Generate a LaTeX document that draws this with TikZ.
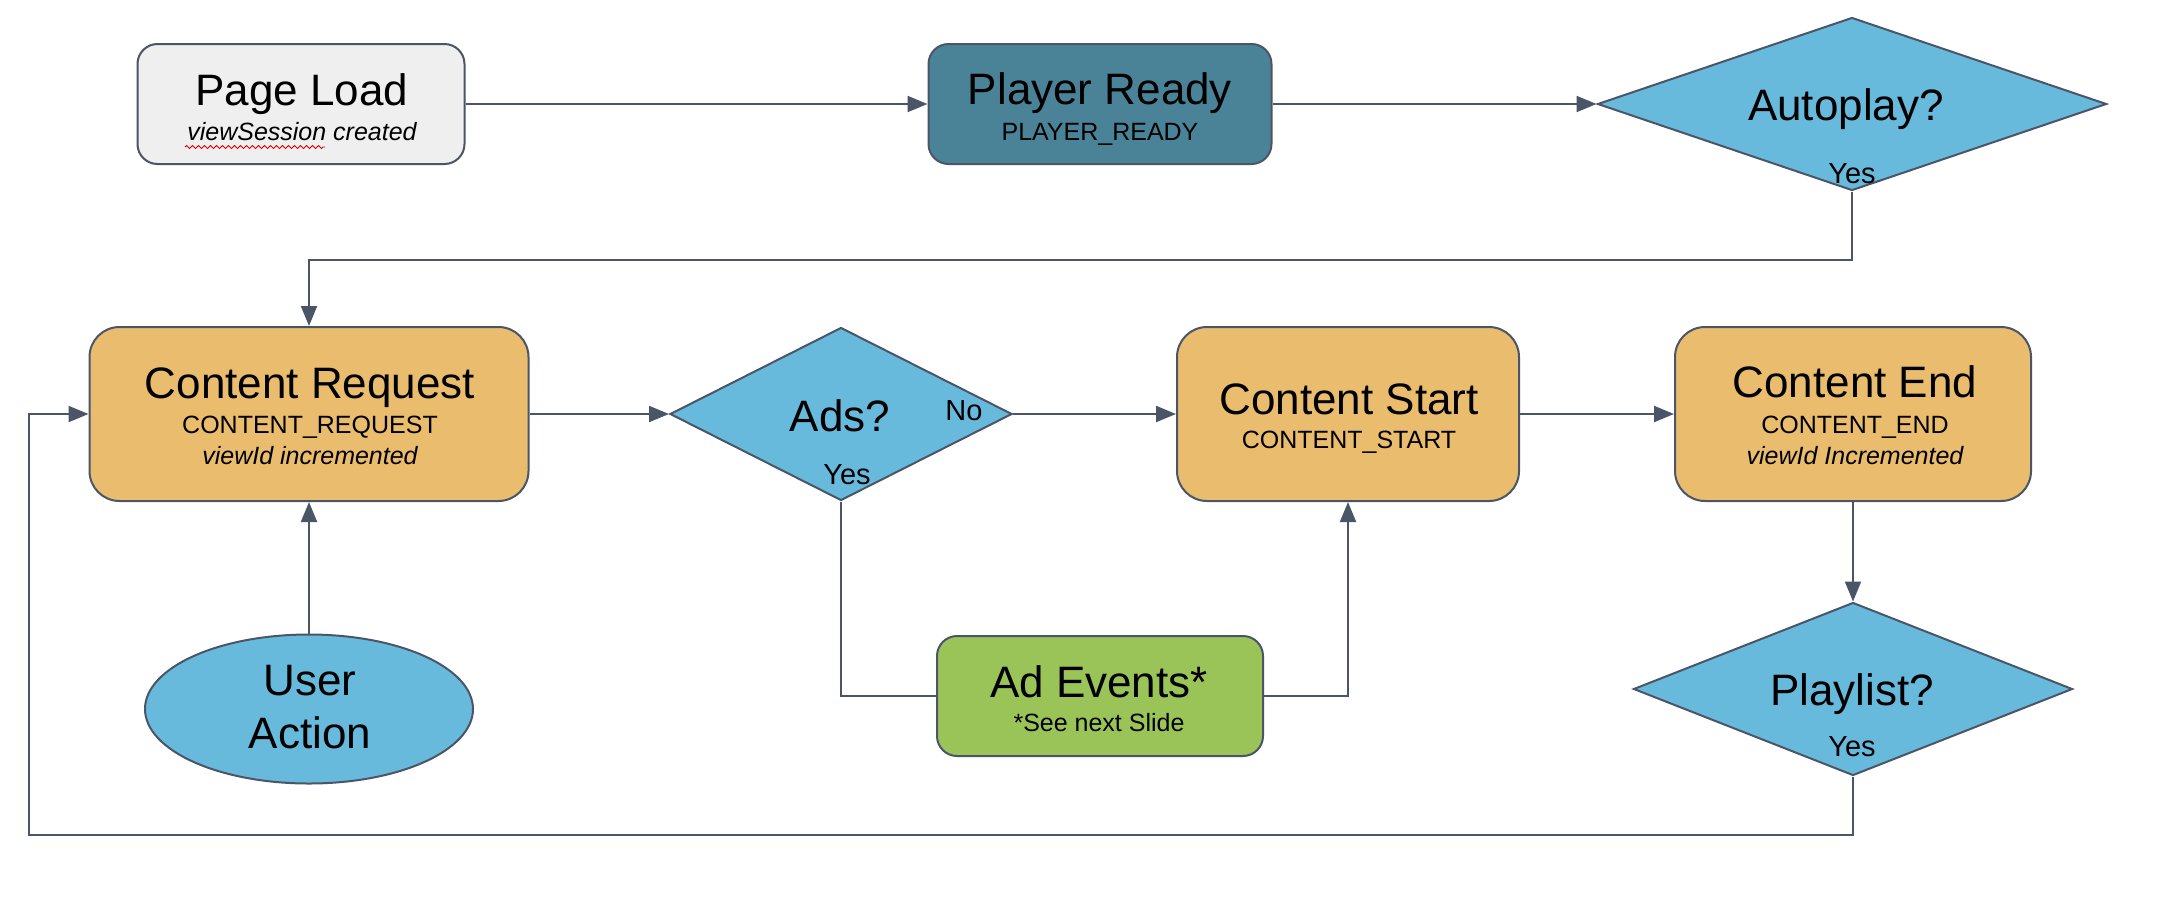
\documentclass[tikz,border=0pt]{standalone}
\usepackage{fontspec}
\setmainfont{Liberation Sans}
\usetikzlibrary{shapes.geometric,arrows.meta,decorations.pathmorphing}
\definecolor{edgecol}{HTML}{4B5568}
\definecolor{grayfill}{HTML}{EFEFEF}
\definecolor{tealfill}{HTML}{4A8397}
\definecolor{bluefill}{HTML}{67BADC}
\definecolor{orangefill}{HTML}{E9BC6E}
\definecolor{greenfill}{HTML}{9AC458}
\tikzset{
  box/.style={draw=edgecol, line width=1pt, rounded corners=10pt, inner sep=0pt},
  bigbox/.style={box, rounded corners=15pt, fill=orangefill, minimum height=87pt},
  decision/.style={diamond, draw=edgecol, line width=1pt, fill=bluefill, inner sep=0pt},
  ttl/.style={anchor=base, inner sep=0pt, font=\fontsize{22}{26}\selectfont},
  sub/.style={anchor=base, inner sep=0pt, font=\fontsize{12.5}{15}\selectfont},
  lbl/.style={anchor=base, inner sep=0pt, font=\fontsize{14.5}{17}\selectfont},
  conn/.style={draw=edgecol, line width=1pt, -{Triangle[length=10pt,width=8pt]}},
  plain/.style={draw=edgecol, line width=1pt},
}
\begin{document}
\begin{tikzpicture}[x=0.5pt,y=-0.5pt]
\useasboundingbox[fill=white] (0,0) rectangle (2162,922);

% shapes
\node[box, fill=grayfill, minimum width=163.5pt, minimum height=60pt] (pl) at (301,104) {};
\node[box, fill=tealfill, minimum width=171.5pt, minimum height=60pt] (pr) at (1100,104) {};
\node[decision, minimum width=254.5pt, minimum height=86.5pt] (ap) at (1852,104) {};
\node[bigbox, minimum width=219.5pt] (cr) at (309,414) {};
\node[decision, minimum width=171pt, minimum height=86.5pt] (ads) at (841,414) {};
\node[bigbox, minimum width=171pt] (cs) at (1348,414) {};
\node[bigbox, minimum width=178pt] (ce) at (1853,414) {};
\node[box, fill=greenfill, minimum width=163pt, minimum height=60pt] (ae) at (1100,696) {};
\node[ellipse, draw=edgecol, line width=1pt, fill=bluefill, inner sep=0pt, minimum width=164pt, minimum height=74.5pt] (ua) at (309,709) {};
\node[decision, minimum width=219.5pt, minimum height=86.5pt] (pll) at (1853,689) {};
\coordinate (lp) at (29,835);

% texts
\node[ttl] (pl-t) at (302,105) {Page Load};
\node[sub, font=\fontsize{12.5}{15}\selectfont\itshape] (pl-s) at (302,140) {viewSession created};
\draw[red!85!black, line width=0.4pt, decorate, decoration={zigzag, segment length=3pt, amplitude=0.8pt}] (185,147) -- (325,147);

\node[ttl] (pr-t) at (1100,104) {Player Ready};
\node[sub] (pr-s) at (1100,140) {PLAYER\_READY};

\node[ttl] (ap-t) at (1846,120) {Autoplay?};
\node[lbl] (ap-y) at (1852,183) {Yes};

\node[ttl] (cr-t) at (310,398) {Content Request};
\node[sub] (cr-s) at (310,433) {CONTENT\_REQUEST};
\node[sub, font=\fontsize{12.5}{15}\selectfont\itshape] (cr-v) at (310,464) {viewId incremented};

\node[ttl] (ads-t) at (840,431) {Ads?};
\node[lbl] (ads-n) at (964,420) {No};
\node[lbl] (ads-y) at (847,484) {Yes};

\node[ttl] (cs-t) at (1349,414) {Content Start};
\node[sub] (cs-s) at (1349,448) {CONTENT\_START};

\node[ttl] (ce-t) at (1855,397) {Content End};
\node[sub] (ce-s) at (1855,433) {CONTENT\_END};
\node[sub, font=\fontsize{12.5}{15}\selectfont\itshape] (ce-v) at (1855,464) {viewId Incremented};

\node[ttl] (ae-t) at (1099,697) {Ad Events*};
\node[sub] (ae-s) at (1099,731) {*See next Slide};

\node[ttl] (ua-t1) at (310,695) {User};
\node[ttl] (ua-t2) at (310,748) {Action};

\node[ttl] (pll-t) at (1852,705) {Playlist?};
\node[lbl] (pll-y) at (1852,756) {Yes};

% connectors
\draw[conn] (pl.east) -- (pr.west);
\draw[conn] (pr.east) -- (ap.west);
\draw[conn] (ap.south) -- ++(0,68) -| (cr.north);
\draw[conn] (cr.east) -- (ads.west);
\draw[conn] (ads.east) -- (cs.west);
\draw[conn] (cs.east) -- (ce.west);
\draw[conn] (ce.south) -- (pll.north);
\draw[conn] (ua.north) -- (cr.south);
\draw[plain] (ads.south) |- (ae.west);
\draw[conn] (ae.east) -| (cs.south);
\draw[conn] (pll.south) |- (lp) |- (cr.west);
\end{tikzpicture}
\end{document}
